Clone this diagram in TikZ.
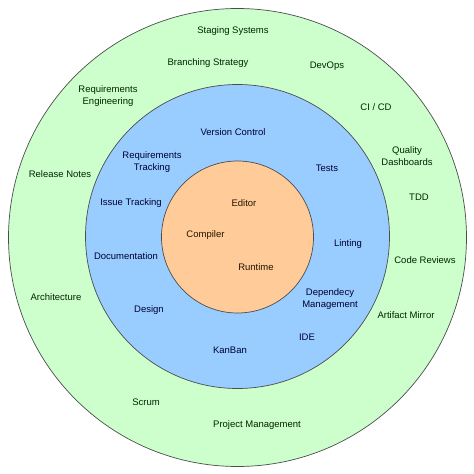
\documentclass[tikz,border=0pt]{standalone}
\usepackage{fontspec}
\setmainfont{Liberation Sans}
\begin{document}
\begin{tikzpicture}[x=1pt,y=-1pt,
  ring/.style={draw=black!70,line width=0.7pt},
  lbl/.style={font=\fontsize{9.5}{12}\selectfont,align=center,inner sep=0pt},
  glbl/.style={lbl,text=black!85!green},
  blbl/.style={lbl,text=black!80!blue},
  olbl/.style={lbl,text=black!85!orange}]
\definecolor{ringgreen}{HTML}{CCFFCC}
\definecolor{ringblue}{HTML}{99CCFF}
\definecolor{ringorange}{HTML}{FFCC99}
\useasboundingbox (0,0) rectangle (474,474);
\fill[white] (0,0) rectangle (474,474);
\node[ring,fill=ringgreen,circle,minimum size=458pt,inner sep=0pt] (outer) at (237.5,237.5) {};
\node[ring,fill=ringblue,circle,minimum size=304pt,inner sep=0pt] (middle) at (237.5,236.5) {};
\node[ring,fill=ringorange,circle,minimum size=152pt,inner sep=0pt] (inner) at (237.5,237) {};
% outer ring
\node[glbl] (staging) at (233,31) {Staging Systems};
\node[glbl] (branch) at (208,63) {Branching Strategy};
\node[glbl] (devops) at (327,66) {DevOps};
\node[glbl] (reqeng) at (108,96) {Requirements\\Engineering};
\node[glbl] (cicd) at (376,107) {CI / CD};
\node[glbl] (quality) at (407,156) {Quality\\Dashboards};
\node[glbl] (relnotes) at (60,174) {Release Notes};
\node[glbl] (tdd) at (419,197) {TDD};
\node[glbl] (codereview) at (425,260) {Code Reviews};
\node[glbl] (arch) at (56,297) {Architecture};
\node[glbl] (artifact) at (406,315) {Artifact Mirror};
\node[glbl] (scrum) at (146,402) {Scrum};
\node[glbl] (projmgmt) at (257,425) {Project Management};
% middle ring
\node[blbl] (version) at (233,132) {Version Control};
\node[blbl] (reqtrack) at (152,162) {Requirements\\Tracking};
\node[blbl] (tests) at (327,168) {Tests};
\node[blbl] (issue) at (131,203) {Issue Tracking};
\node[blbl] (docs) at (126,256) {Documentation};
\node[blbl] (linting) at (348,244) {Linting};
\node[blbl] (depmgmt) at (330,299) {Dependecy\\Management};
\node[blbl] (design) at (149,310) {Design};
\node[blbl] (ide) at (307,337) {IDE};
\node[blbl] (kanban) at (230,350) {KanBan};
% inner
\node[olbl] (editor) at (244,203) {Editor};
\node[olbl] (compiler) at (205.5,235) {Compiler};
\node[olbl] (runtime) at (256,267) {Runtime};
\end{tikzpicture}
\end{document}
